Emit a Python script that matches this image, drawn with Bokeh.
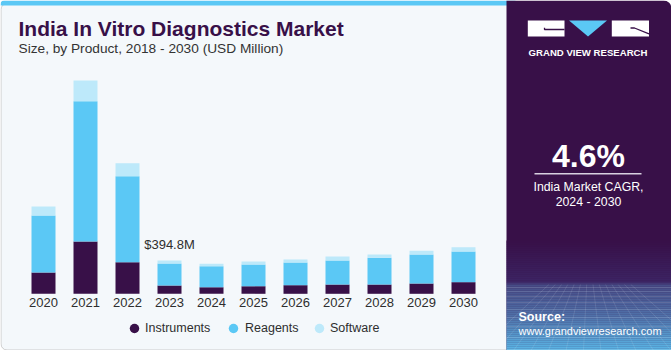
from bokeh.plotting import figure
from bokeh.models import Range1d, Label, ColumnDataSource
from bokeh.core.properties import value
from bokeh.embed import file_html
from bokeh.resources import INLINE
import numpy as np

# ---------------- data ----------------
years = [2020, 2021, 2022, 2023, 2024, 2025, 2026, 2027, 2028, 2029, 2030]
year_labels = [str(y) for y in years]
series = ["Instruments", "Reagents", "Software"]
instruments = [253, 620, 375, 98.5, 78, 90, 102, 110, 110, 122, 138]
reagents = [676, 1664, 1020, 260.8, 249, 257, 269, 285, 317, 344, 364]
software = [107, 245, 154, 35.5, 28, 36, 36, 47, 39, 44, 51]
highlight_year = 2023
highlight_label = "$394.8M"
title_text = "India In Vitro Diagnostics Market"
subtitle_text = "Size, by Product, 2018 - 2030 (USD Million)"
cagr_value = "4.6%"
cagr_lines = ["India Market CAGR,", "2024 - 2030"]
brand = "GRAND VIEW RESEARCH"
source_lines = ["Source:", "www.grandviewresearch.com"]

colors = ["#381048", "#5BC8F5", "#BDE9FA"]
DARK = "#381048"
TXT = "#2E2E2E"
FONT = "Liberation Sans"

# ------------- canvas mapping (pixels -> data) -------------
W, H = 671, 350
X0PX, XSTEP = 43.0, 42.0
BASE_PX, MPP = 293.3, 11.856


def X(px):
    return years[0] + (px - X0PX) / XSTEP


def Y(py):
    return (BASE_PX - py) * MPP


p = figure(width=W, height=H, x_range=Range1d(X(0), X(W)), y_range=Range1d(Y(H), Y(0)),
           min_border=0, toolbar_location=None, output_backend="svg",
           x_axis_location=None, y_axis_location=None)
p.grid.visible = False
p.outline_line_color = None
p.background_fill_color = "white"
p.border_fill_color = "white"

# ------------- panels -------------
p.quad(left=[X(0.5)], right=[X(520)], top=[Y(3)], bottom=[Y(349.5)],
       fill_color="#F4F8FB", line_color="#CCCCCC", line_width=1, border_radius=6)
p.quad(left=[X(0)], right=[X(515)], top=[Y(0)], bottom=[Y(5)],
       fill_color="#5BC8F5", line_color=None, border_radius=(4, 0, 0, 0))
p.quad(left=[X(506)], right=[X(W)], top=[Y(0)], bottom=[Y(H)],
       fill_color=DARK, line_color=None, border_radius=(0, 8, 0, 0))

# gradient at bottom of right panel
stops_px = [240, 282, 284, 315, 350]
stops_rgb = np.array([[0x38, 0x10, 0x48], [0x3C, 0x24, 0x64], [0x47, 0x4C, 0x86],
                      [0x4F, 0x70, 0xA8], [0x5A, 0xB6, 0xE6]], dtype=float)
g_top, g_bot, g_col = [], [], []
for py in range(240, 350, 2):
    c = [np.interp(py + 1, stops_px, stops_rgb[:, k]) for k in range(3)]
    g_top.append(Y(py))
    g_bot.append(Y(py + 2.2))
    g_col.append("#%02x%02x%02x" % tuple(int(round(v)) for v in c))
p.quad(left=X(506), right=X(W), top=g_top, bottom=g_bot, fill_color=g_col, line_color=None)

# faint perspective grid in the gradient
grid_rows = [287, 291, 296, 302, 309, 317, 326, 337, 349]
p.multi_line(xs=[[X(506), X(W)] for _ in grid_rows], ys=[[Y(r), Y(r)] for r in grid_rows],
             line_color="white", line_alpha=0.16, line_width=0.8)
vx = np.arange(500, 690, 14)
p.multi_line(xs=[[X(588 + (v - 588) * 0.45), X(588 + (v - 588) * 1.25)] for v in vx],
             ys=[[Y(284), Y(350)] for _ in vx], line_color="white", line_alpha=0.14, line_width=0.8)

# ------------- bars -------------
src = ColumnDataSource(dict(year=years, Instruments=instruments, Reagents=reagents, Software=software))
p.vbar_stack(series, x="year", width=24 / XSTEP, color=colors, source=src, line_color=None)

# year labels
p.text(x=years, y=[0] * len(years), text=year_labels, y_offset=9,
       text_align="center", text_baseline="middle", text_font=value(FONT),
       text_font_size="13px", text_color=TXT)

# highlight label
hi = years.index(highlight_year)
hi_total = instruments[hi] + reagents[hi] + software[hi]
p.text(x=[highlight_year], y=[hi_total], text=[highlight_label], y_offset=-9,
       text_align="center", text_baseline="bottom", text_font=value(FONT),
       text_font_size="13px", text_color=TXT)

# legend
leg_cx = [134, 233, 319]
leg_tx = [144.5, 244.5, 329.5]
p.scatter(x=[X(v) for v in leg_cx], y=[Y(328)] * 3, size=9.5, color=colors, line_color=None)
p.text(x=[X(v) for v in leg_tx], y=[Y(327.5)] * 3, text=series, text_align="left",
       text_baseline="middle", text_font=value(FONT), text_font_size="12.5px",
       text_color=TXT)

# ------------- titles -------------
p.add_layout(Label(x=X(18), y=Y(28.3), text=title_text, text_baseline="middle",
                   text_font=FONT, text_font_style="bold", text_font_size="21px",
                   text_color=DARK))
p.add_layout(Label(x=X(18), y=Y(47.5), text=subtitle_text, text_baseline="middle",
                   text_font=FONT, text_font_size="13.7px", text_color="#333333"))

# ------------- logo -------------
p.quad(left=[X(527.3), X(611.3)], right=[X(564), X(648.5)], top=[Y(20)] * 2, bottom=[Y(36)] * 2,
       fill_color="white", line_color=None)
p.patch(x=[X(568.5), X(606.5), X(587.5)], y=[Y(20), Y(20), Y(36)], fill_color="#5BC8F5", line_color=None)
p.line(x=[X(544), X(544), X(564)], y=[Y(27.3), Y(29), Y(29)], line_color=DARK, line_width=1.3)
p.line(x=[X(630), X(634), X(648.5)], y=[Y(27.5), Y(27.5), Y(33.3)], line_color=DARK, line_width=1.3)
p.add_layout(Label(x=X(587.5), y=Y(51.7), text=brand, text_align="center", text_baseline="middle",
                   text_font=FONT, text_font_style="bold", text_font_size="9.6px",
                   text_color="white"))

# ------------- CAGR -------------
p.add_layout(Label(x=X(588), y=Y(155.5), text=cagr_value, text_align="center",
                   text_baseline="middle", text_font=FONT, text_font_style="bold",
                   text_font_size="32px", text_color="white"))
p.line(x=[X(534), X(641)], y=[Y(173.3), Y(173.3)], line_color="#D8D0E0", line_width=1.5)
p.add_layout(Label(x=X(588), y=Y(186), text=cagr_lines[0], text_align="center", text_baseline="middle",
                   text_font=FONT, text_font_size="12.3px", text_color="white"))
p.add_layout(Label(x=X(588), y=Y(201), text=cagr_lines[1], text_align="center", text_baseline="middle",
                   text_font=FONT, text_font_size="12.3px", text_color="white"))

# ------------- source -------------
p.add_layout(Label(x=X(518), y=Y(316), text=source_lines[0], text_align="left", text_baseline="middle",
                   text_font=FONT, text_font_style="bold", text_font_size="12.5px",
                   text_color="white"))
p.add_layout(Label(x=X(518), y=Y(330.5), text=source_lines[1], text_align="left", text_baseline="middle",
                   text_font=FONT, text_font_size="11px", text_color="white"))

open("out.html", "w").write(file_html(p, INLINE))
